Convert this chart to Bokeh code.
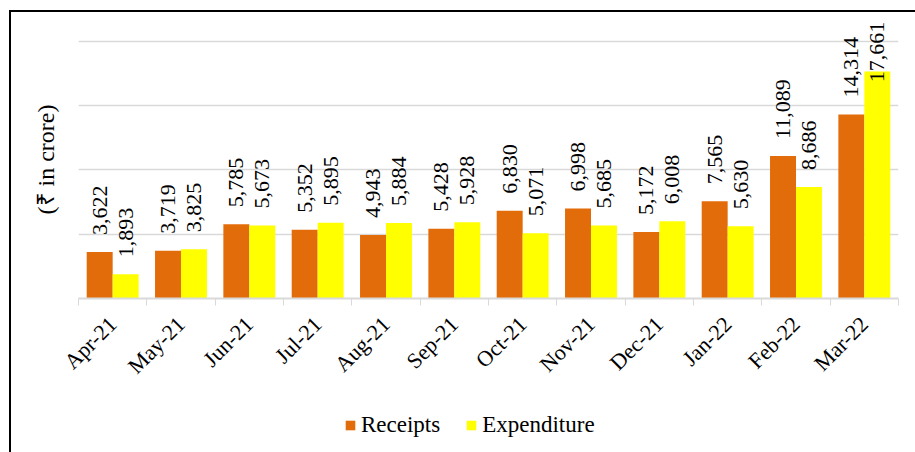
import numpy as np
from math import pi
from bokeh.plotting import figure
from bokeh.layouts import column
from bokeh.models import (ColumnDataSource, FixedTicker, Range1d, LabelSet,
                          Legend, LegendItem)
from bokeh.transform import dodge
from bokeh.embed import file_html
from bokeh.resources import INLINE

# ---- data ----
months = ["Apr-21", "May-21", "Jun-21", "Jul-21", "Aug-21", "Sep-21",
          "Oct-21", "Nov-21", "Dec-21", "Jan-22", "Feb-22", "Mar-22"]
receipts = [3622, 3719, 5785, 5352, 4943, 5428, 6830, 6998, 5172, 7565, 11089, 14314]
expenditure = [1893, 3825, 5673, 5895, 5884, 5928, 5071, 5685, 6008, 5630, 8686, 17661]
y_ticks = [0, 5000, 10000, 15000, 20000]
series_names = ["Receipts", "Expenditure"]
y_title = "(₹ in crore)"

# ---- style ----
colors = ["#E36C0A", "#FFFF00"]
FONT = "Liberation Serif"
FS = "22px"
GRID = "#d9d9d9"
BAR_W = 0.38
LABEL_CAP = 15500  # keeps the tallest label inside the chart area

centers = np.arange(len(months)) + 0.5
src = ColumnDataSource(dict(
    x=centers,
    receipts=receipts,
    expenditure=expenditure,
    r_lab_y=np.minimum(receipts, LABEL_CAP),
    e_lab_y=np.minimum(expenditure, LABEL_CAP),
    r_txt=[f"{v:,}" for v in receipts],
    e_txt=[f"{v:,}" for v in expenditure],
))

p = figure(width=904, height=388, output_backend="svg", toolbar_location=None,
           x_range=Range1d(0, len(months)), y_range=Range1d(0, 21634),
           min_border_left=67, min_border_right=17, min_border_top=8,
           min_border_bottom=102)
p.outline_line_color = None

r1 = p.vbar(x=dodge("x", -BAR_W / 2), top="receipts", width=BAR_W, bottom=0,
            source=src, fill_color=colors[0], line_color=None)
r2 = p.vbar(x=dodge("x", BAR_W / 2), top="expenditure", width=BAR_W, bottom=0,
            source=src, fill_color=colors[1], line_color=None)

for col_y, col_t, off in (("r_lab_y", "r_txt", -BAR_W / 2), ("e_lab_y", "e_txt", BAR_W / 2)):
    p.add_layout(LabelSet(x=dodge("x", off), y=col_y, text=col_t, source=src,
                          angle=pi / 2, text_align="left", text_baseline="middle",
                          y_offset=17, text_font=FONT, text_font_size=FS,
                          text_color="black"))

# x axis: labels at centres, tick marks at boundaries
xa = p.xaxis[0]
xa.ticker = FixedTicker(ticks=list(centers), minor_ticks=list(range(len(months) + 1)))
xa.major_label_overrides = {float(c): m for c, m in zip(centers, months)}
xa.major_tick_line_color = None
xa.minor_tick_line_color = GRID
xa.minor_tick_in = 0
xa.minor_tick_out = 7
xa.axis_line_color = GRID
xa.axis_line_width = 2
xa.major_label_orientation = pi / 4
xa.major_label_text_font = FONT
xa.major_label_text_font_size = FS
xa.major_label_text_color = "black"
xa.major_label_standoff = 15

# y axis: only its title is visible (no tick labels in the original)
ya = p.yaxis[0]
ya.ticker = FixedTicker(ticks=[])
ya.major_tick_line_color = None
ya.minor_tick_line_color = None
ya.axis_line_color = None
ya.axis_label = y_title
ya.axis_label_text_font = FONT
ya.axis_label_text_font_size = "24px"
ya.axis_label_text_font_style = "normal"
ya.axis_label_text_color = "black"
ya.axis_label_standoff = 20

p.xgrid.visible = False
p.ygrid.ticker = FixedTicker(ticks=y_ticks)
p.ygrid.grid_line_color = GRID
p.ygrid.grid_line_width = 1.5

# ---- legend strip (separate figure so it is not clipped by the plot frame) ----
leg = figure(width=904, height=52, output_backend="svg", toolbar_location=None,
             x_range=Range1d(0, 1), y_range=Range1d(0, 1), min_border=0,
             x_axis_type=None, y_axis_type=None)
leg.outline_line_color = None
leg.grid.visible = False
# swatch renderers kept outside the visible range; only their legend entries show
lr1 = leg.vbar(x=[-5], top=[-5], width=0.1, fill_color=colors[0], line_color=None)
lr2 = leg.vbar(x=[-5], top=[-5], width=0.1, fill_color=colors[1], line_color=None)
legend = Legend(items=[LegendItem(label=series_names[0], renderers=[lr1]),
                       LegendItem(label=series_names[1], renderers=[lr2])],
                orientation="horizontal", location=(266, 14),
                glyph_width=12, glyph_height=12, label_text_font=FONT,
                label_text_font_size="23px", label_text_color="black",
                spacing=25, label_standoff=5,
                border_line_color=None, background_fill_alpha=0,
                padding=0, margin=0)
leg.add_layout(legend)

layout = column(p, leg, spacing=0,
                styles={"border-left": "2px solid #000", "border-top": "2px solid #000",
                        "margin-left": "9px", "margin-top": "10px"})

open("out.html", "w").write(file_html(layout, INLINE))
